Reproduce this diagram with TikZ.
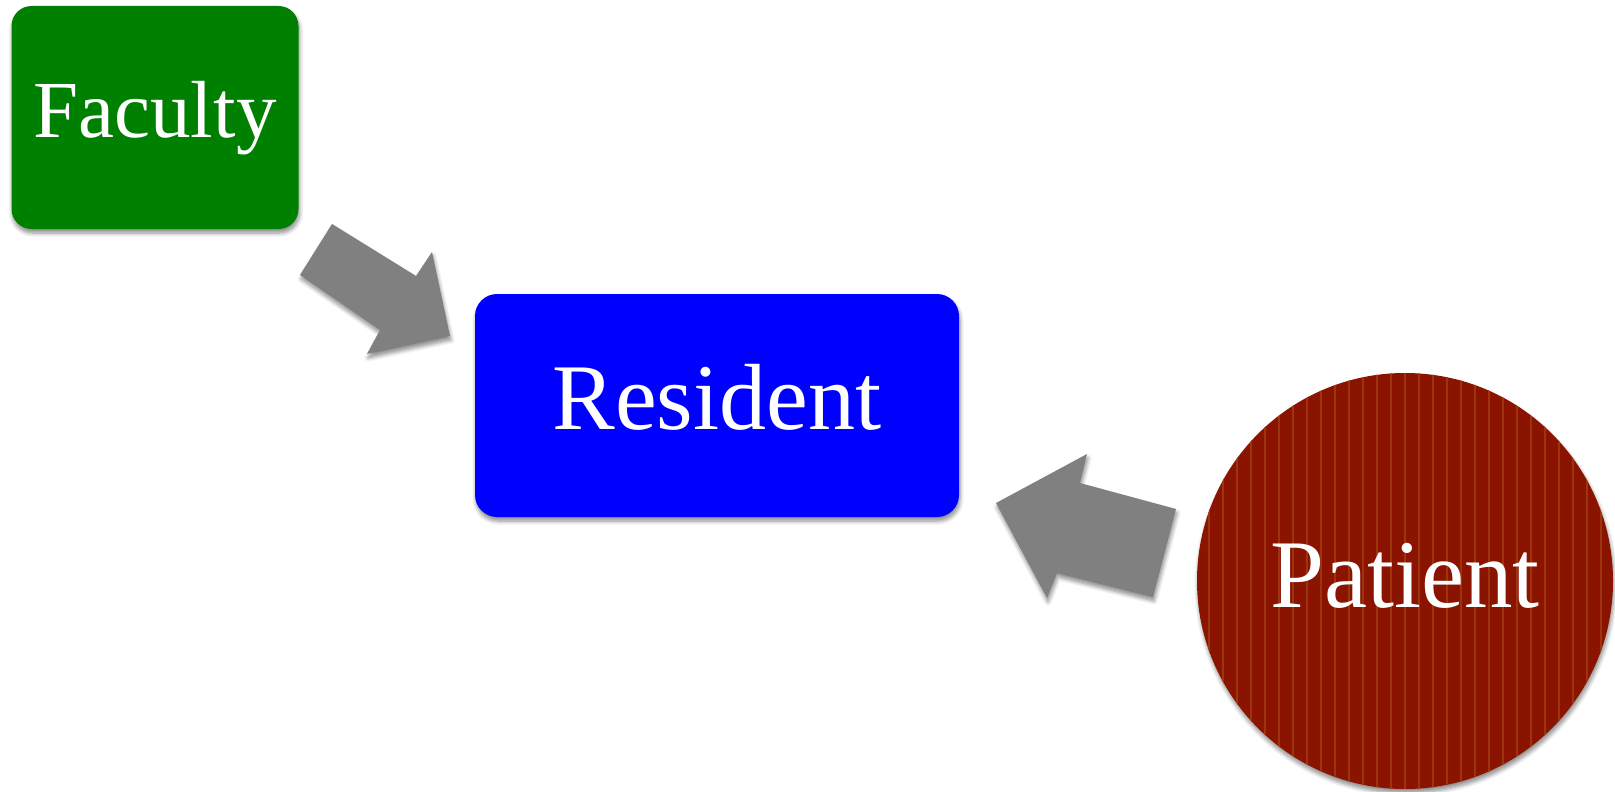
\documentclass[tikz,border=0pt]{standalone}
\usepackage{fontspec}
\setmainfont{Liberation Serif}
\usetikzlibrary{shadows.blur}
\definecolor{facgreen}{RGB}{0,128,0}
\definecolor{resblue}{RGB}{0,0,255}
\definecolor{patred}{RGB}{138,20,0}
\definecolor{patstripe}{RGB}{156,52,14}
\definecolor{flowgray}{RGB}{128,128,128}
\tikzset{
  softshadow/.style={blur shadow={shadow xshift=1pt, shadow yshift=-4pt,
      shadow blur radius=4pt, shadow blur steps=6, shadow opacity=45}},
  rolebox/.style={rectangle, softshadow, inner sep=0pt, text=white,
      text depth=0pt},
  flow/.style={fill=flowgray, draw=none, softshadow},
  stripe/.style={draw=patstripe, line width=2pt}
}
\begin{document}
\begin{tikzpicture}[x=1pt,y=-1pt]
\useasboundingbox (0,0) rectangle (1615,792);

% role boxes
\node[rolebox, fill=facgreen, rounded corners=20pt,
      minimum width=287pt, minimum height=223pt, text height=39pt,
      font=\fontsize{81}{90}\selectfont] (fac) at (155,117.5) {Faculty};
\node[rolebox, fill=resblue, rounded corners=22pt,
      minimum width=484pt, minimum height=223pt, text height=47pt,
      font=\fontsize{94}{100}\selectfont] (res) at (717,405.5) {Resident};

% striped patient disc
\node[circle, fill=patred, softshadow, inner sep=0pt, minimum size=416pt,
      text=white, text height=52pt, text depth=0pt,
      font=\fontsize{97}{100}\selectfont,
      path picture={
        \foreach \dx in {-210,-196,...,210}
          \draw[stripe] ([xshift=\dx pt]path picture bounding box.north)
                     -- ([xshift=\dx pt]path picture bounding box.south);
      }] (pat) at (1405,581) {Patient};

% block arrows towards the resident
\fill[flow] (300,275) -- (332,224) -- (416,276) -- (432,252)
  -- (450,336) -- (367,354) -- (380,330) -- cycle;
\fill[flow] (996,503) -- (1087,454) -- (1080,483) -- (1176,509)
  -- (1153,597) -- (1057,573) -- (1047,598) -- cycle;
\end{tikzpicture}
\end{document}
